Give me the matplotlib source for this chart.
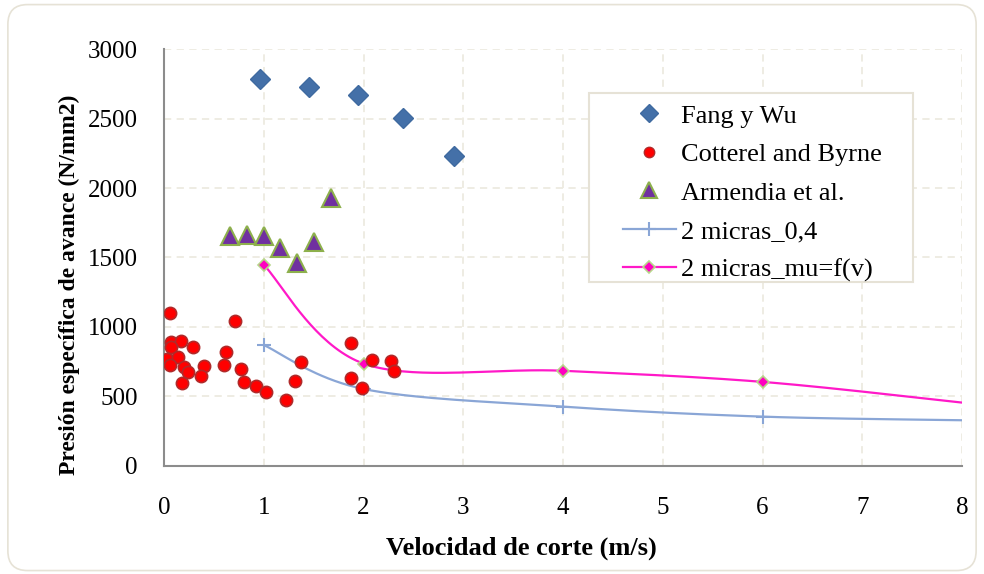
import matplotlib
matplotlib.use('Agg')
import matplotlib.pyplot as plt
import numpy as np
from matplotlib.lines import Line2D
from matplotlib.patches import FancyBboxPatch, Rectangle

plt.rcParams['font.family'] = ['Liberation Serif', 'DejaVu Serif']

# Fang y Wu
fang_x = [0.96, 1.45, 1.94, 2.40, 2.91]
fang_y = [2784, 2726, 2671, 2503, 2227]

# Cotterel and Byrne
cot_x = [0.06, 0.708, 0.067, 0.174, 0.074, 0.289, 0.617, 1.872, 0.034, 0.144,
         0.06, 0.205, 0.245, 0.396, 0.369, 0.597, 0.768, 0.799, 0.181, 0.926,
         1.02, 1.221, 1.312, 1.369, 1.872, 1.983, 2.08, 2.275, 2.309]
cot_y = [1100, 1042, 890, 898, 854, 854, 818, 887, 770, 782,
         729, 710, 674, 717, 650, 729, 698, 606, 594, 578,
         529, 477, 611, 751, 635, 562, 760, 755, 683]

# Armendia et al.
arm_x = [0.664, 0.832, 1.0, 1.161, 1.329, 1.503, 1.671]
arm_y = [1658, 1663, 1656, 1567, 1459, 1610, 1927]

# simulated curves
v_sim = [1, 2, 4, 6, 8]
mic_04 = [870, 554, 427, 355, 329]
mic_mu = [1447, 737, 685, 605, 456]


def smooth(x, y, n=40):
    # bezier smoothing like a spreadsheet "smoothed line"
    p = np.column_stack([x, y]).astype(float)
    pts = np.vstack([p[0], p, p[-1]])
    out = []
    for i in range(1, len(pts) - 2):
        p0, p1, p2, p3 = pts[i - 1], pts[i], pts[i + 1], pts[i + 2]
        c1 = p1 + (p2 - p0) / 6
        c2 = p2 - (p3 - p1) / 6
        t = np.linspace(0, 1, n)[:, None]
        seg = (1 - t) ** 3 * p1 + 3 * (1 - t) ** 2 * t * c1 + 3 * (1 - t) * t ** 2 * c2 + t ** 3 * p2
        out.append(seg if i == 1 else seg[1:])
    out = np.vstack(out)
    return out[:, 0], out[:, 1]


fig = plt.figure(figsize=(9.84, 5.74), dpi=100)
fig.patches.append(FancyBboxPatch((0.008, 0.006), 0.984, 0.986, boxstyle='round,pad=0,rounding_size=0.02',
                                  transform=fig.transFigure, fc='white', ec='#E6E2D6', lw=1.2,
                                  mutation_aspect=984 / 574, zorder=-1))
ax = fig.add_axes([0.1667, 0.1882, 0.811, 0.7264])

blue_line = '#8AA6D6'
pink_line = '#FF19C8'

sx, sy = smooth(v_sim, mic_04)
ax.plot(sx, sy, color=blue_line, lw=1.6, zorder=3)
ax.plot(v_sim[:4], mic_04[:4], ls='none', marker='+', ms=10, mew=1.5, color=blue_line, zorder=4)

sx, sy = smooth(v_sim, mic_mu)
ax.plot(sx, sy, color=pink_line, lw=1.6, zorder=3)
ax.plot(v_sim[:4], mic_mu[:4], ls='none', marker='D', ms=6, mfc='#FF00C0', mec='#B8D58A', mew=1.2, zorder=4)

ax.plot(fang_x, fang_y, ls='none', marker='D', ms=10.5, mfc='#4470A8', mec='#3F6AA0', zorder=5)
ax.plot(cot_x, cot_y, ls='none', marker='o', ms=8.8, mfc='#FF0000', mec='#B02A2A', mew=1.2, zorder=5)
ax.plot(arm_x, arm_y, ls='none', marker='^', ms=13, mfc='#7030A0', mec='#8DB04C', mew=1.5, zorder=5)

ax.set_xlim(0, 8)
ax.set_ylim(0, 3000)
ax.set_xticks(range(0, 9))
ax.set_yticks(range(0, 3001, 500))
ax.grid(True, color='#EDEAE0', ls=(0, (4, 3)), lw=1.3)
ax.set_axisbelow(True)
for s in ['top', 'right']:
    ax.spines[s].set_visible(False)
for s in ['left', 'bottom']:
    ax.spines[s].set_color('#8C8C8C')
    ax.spines[s].set_linewidth(1.5)
ax.tick_params(axis='both', length=0, labelsize=18)
ax.tick_params(axis='y', pad=19)
ax.tick_params(axis='x', pad=22)

ax.set_xlabel('Velocidad de corte (m/s)', fontsize=19, fontweight='bold')
ax.set_ylabel('Presión específica de avance (N/mm2)', fontsize=17, fontweight='bold')
ax.xaxis.set_label_coords(0.448, -0.17)
ax.yaxis.set_label_coords(-0.105, 0.434)

# legend box drawn separately so the padding can be wide on the sides
ax.add_patch(Rectangle((0.5326, 0.4412), 0.406, 0.4533, transform=ax.transAxes,
                       fc='white', ec='#E6E2D6', lw=1.5, zorder=6, clip_on=False))

handles = [
    Line2D([], [], ls='none', marker='D', ms=9, mfc='#4470A8', mec='#3F6AA0'),
    Line2D([], [], ls='none', marker='o', ms=7.5, mfc='#FF0000', mec='#B02A2A'),
    Line2D([], [], ls='none', marker='^', ms=11, mfc='#7030A0', mec='#8DB04C', mew=1.5),
    Line2D([], [], color=blue_line, lw=1.6, marker='+', ms=10, mew=1.5),
    Line2D([], [], color=pink_line, lw=1.6, marker='D', ms=6, mfc='#FF00C0', mec='#B8D58A', mew=1.2),
]
labels = ['Fang y Wu', 'Cotterel and Byrne', 'Armendia et al.', '2 micras_0,4', '2 micras_mu=f(v)']
leg = ax.legend(handles, labels, loc='upper left', bbox_to_anchor=(0.5752, 0.868), fontsize=19,
                frameon=False, handlelength=2.0, handletextpad=0.2, labelspacing=0.57,
                borderpad=0, borderaxespad=0)
leg.set_zorder(7)

fig.savefig('out.png', dpi=100)
